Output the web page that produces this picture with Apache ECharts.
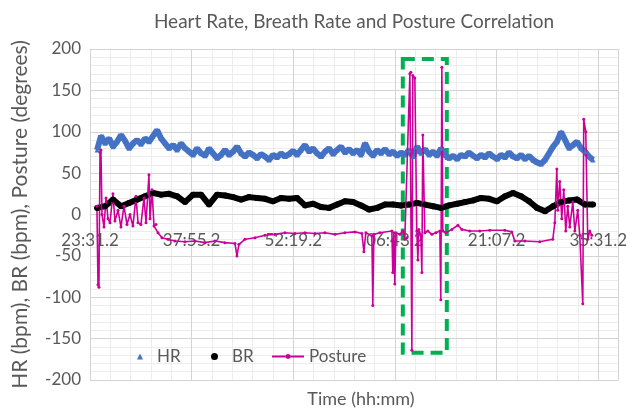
<!DOCTYPE html>
<html>
<head>
<meta charset="utf-8">
<script src="https://cdn.jsdelivr.net/npm/echarts@6/dist/echarts.min.js"></script>
<style>
  html, body { margin: 0; padding: 0; background: #fff; }
  #chart { width: 630px; height: 409px; }
</style>
</head>
<body>
<div id="chart"></div>
<script>
// time axis: seconds after the first sample label (23:31.2)
const timeLabels = ['23:31.2', '37:55.2', '52:19.2', '06:43.2', '21:07.2', '35:31.2'];
const labelStep = 864;          // 14:24 between labels
const axisEnd = 4492.8;

// HR (bpm), one reading every 34 s from t = 60 s
const hrStart = 60, hrStep = 34;
const hrValues = [
  78, 95, 86, 92, 82, 88, 96, 89, 80, 86, 90, 85, 92, 88, 95, 102, 92, 86, 80, 84,
  78, 86, 80, 76, 72, 80, 74, 71, 80, 74, 68, 72, 78, 72, 76, 82, 74, 70, 75, 72,
  68, 73, 70, 66, 72, 69, 74, 70, 73, 77, 72, 78, 84, 76, 80, 74, 70, 76, 80, 73,
  78, 82, 75, 79, 74, 78, 72, 86, 76, 71, 78, 74, 79, 73, 76, 71, 75, 72, 78, 70,
  82, 74, 79, 72, 76, 71, 80, 72, 68, 71, 67, 72, 70, 75, 71, 68, 72, 69, 74, 70,
  67, 72, 69, 75, 70, 68, 72, 67, 71, 66, 63, 61, 66, 74, 82, 88, 100, 90, 80, 84,
  88, 80, 76, 70, 66
];

// BR (bpm), one reading every 68 s from t = 60 s
const brStart = 60, brStep = 68;
const brValues = [
  8, 10, 18, 10, 14, 18, 22, 26, 24, 25, 22, 15, 24, 24, 12, 24, 23, 21, 18, 21,
  20, 19, 16, 20, 19, 20, 11, 13, 9, 8, 12, 16, 15, 11, 6, 8, 12, 12, 11, 12,
  14, 12, 10, 8, 11, 13, 15, 17, 20, 19, 16, 22, 26, 22, 16, 8, 4, 10, 15, 17,
  18, 12, 12
];

// Posture (degrees): [seconds, angle]
const posturePoints = [
  [59, 10], [68, -85], [76, -88], [85, 75], [93, 78], [102, 0], [119, -15], [136, 20],
  [153, -5], [170, -10], [195, 25], [212, -8], [238, 5], [263, -15], [289, 10], [314, -12],
  [340, 0], [365, -14], [391, 22], [408, -10], [433, -12], [459, 20], [476, -10], [501, 48],
  [510, -5], [527, 30], [544, -14], [561, -12], [578, -22], [612, -28], [663, -30], [722, -32],
  [807, -33], [892, -32], [977, -34], [1062, -32], [1147, -34], [1232, -35], [1249, -50], [1266, -36],
  [1317, -30], [1402, -28], [1487, -25], [1572, -24], [1657, -22], [1742, -23], [1827, -22], [1912, -23],
  [1997, -22], [2082, -24], [2166, -22], [2251, -21], [2311, -23], [2328, -45], [2345, -22], [2396, -26],
  [2404, -110], [2413, -24], [2464, -22], [2566, -20], [2574, -70], [2583, -22], [2591, -84], [2600, -22],
  [2634, -24], [2659, -20], [2676, -30], [2693, -28], [2719, 170], [2727, 172], [2736, -164], [2744, 168],
  [2761, 165], [2778, -20], [2787, -55], [2795, -18], [2812, -25], [2821, -70], [2829, 96], [2846, -22],
  [2872, -20], [2906, -24], [2940, -22], [2974, -20], [2982, -103], [2991, 178], [2999, -20], [3025, -22],
  [3076, -18], [3127, -13], [3161, -18], [3228, -20], [3313, -20], [3398, -19], [3526, -19], [3585, -21],
  [3611, -32], [3696, -32], [3823, -33], [3934, -30], [3951, -10], [3968, 55], [3976, 5], [3993, 40],
  [4010, -5], [4027, 30], [4044, -20], [4061, 10], [4078, -15], [4104, 15], [4121, -20], [4146, 5],
  [4163, -25], [4189, -108], [4197, 115], [4214, 100], [4231, -30], [4248, -20], [4265, -25]
];

// highlighted region (dashed green box)
const boxFrom = [2659, 188];
const boxTo = [3033, -167];

const hrData = hrValues.map((v, i) => [hrStart + i * hrStep, v]);
const brData = brValues.map((v, i) => [brStart + i * brStep, v]);

const textColor = '#595959';
const font = 'Lato';

const chart = echarts.init(document.getElementById('chart'));

const option = {
  backgroundColor: '#fff',
  textStyle: { fontFamily: font },
  title: [
    {
      text: 'Heart Rate, Breath Rate and Posture Correlation',
      left: 349, top: 7, textAlign: 'center',
      textStyle: { color: textColor, fontSize: 19, fontWeight: 'normal', fontFamily: font }
    },
    {
      text: 'Time (hh:mm)',
      left: 356, top: 385, textAlign: 'center',
      textStyle: { color: textColor, fontSize: 18, fontWeight: 'normal', fontFamily: font }
    }
  ],
  grid: { left: 90, right: 11, top: 49, bottom: 29 },
  legend: [
    {
      data: [{ name: 'HR', icon: 'triangle' }],
      left: 132, top: 343, itemWidth: 6, itemHeight: 6,
      textStyle: { color: textColor, fontSize: 17, fontFamily: font, padding: [0, 0, 0, 9] }
    },
    {
      data: [{ name: 'BR', icon: 'circle' }],
      left: 206, top: 343, itemWidth: 7, itemHeight: 7,
      textStyle: { color: textColor, fontSize: 17, fontFamily: font, padding: [0, 0, 0, 9] }
    },
    {
      data: ['Posture'],
      left: 266, top: 343, itemWidth: 32, itemHeight: 6,
      textStyle: { color: textColor, fontSize: 17, fontFamily: font }
    }
  ],
  xAxis: [
    {
      // labels sit just below the zero line, like the spreadsheet chart
      type: 'value', min: 0, max: axisEnd, interval: labelStep,
      offset: -165.5,
      axisLine: { show: false, onZero: false },
      axisTick: { show: false },
      splitLine: { show: true, lineStyle: { color: '#d4d4d4', width: 1 } },
      axisLabel: {
        color: textColor, fontSize: 17, fontFamily: font, margin: 18,
        showMaxLabel: false,
        formatter: v => timeLabels[Math.round(v / labelStep)] || ''
      }
    },
    {
      // minor vertical grid
      type: 'value', min: 0, max: axisEnd, interval: labelStep / 5, z: -1,
      axisLine: { show: false }, axisTick: { show: false }, axisLabel: { show: false },
      splitLine: { show: true, lineStyle: { color: '#ececec', width: 1 } }
    }
  ],
  yAxis: {
    type: 'value', min: -200, max: 200, interval: 50,
    name: 'HR (bpm), BR (bpm), Posture (degrees)',
    nameLocation: 'middle', nameGap: 59, nameRotate: 90,
    nameTextStyle: { color: textColor, fontSize: 21, fontFamily: font },
    axisLine: { show: true, lineStyle: { color: '#d4d4d4' } },
    axisTick: { show: false },
    axisLabel: { color: textColor, fontSize: 17, fontFamily: font, margin: 9 },
    splitLine: { lineStyle: { color: '#d4d4d4' } },
    minorTick: { show: false, splitNumber: 5 },
    minorSplitLine: { show: true, lineStyle: { color: '#ececec' } }
  },
  series: [
    {
      name: 'HR', type: 'line', data: hrData,
      color: '#4472c4',
      symbol: 'triangle', symbolSize: 5, showAllSymbol: true,
      lineStyle: { width: 6, color: '#4472c4' },
      itemStyle: { color: '#4472c4' },
      animation: false
    },
    {
      name: 'BR', type: 'line', data: brData,
      color: '#000',
      symbol: 'circle', symbolSize: 6, showAllSymbol: true,
      lineStyle: { width: 6, color: '#000' },
      itemStyle: { color: '#000' },
      animation: false
    },
    {
      name: 'Posture', type: 'line', data: posturePoints,
      color: '#cc0099',
      symbol: 'circle', symbolSize: 3, showAllSymbol: true,
      lineStyle: { width: 1.6, color: '#cc0099' },
      itemStyle: { color: '#cc0099' },
      animation: false,
      markArea: {
        silent: true,
        itemStyle: {
          color: 'rgba(0,0,0,0)',
          borderColor: '#00b050', borderWidth: 4, borderType: [12, 7]
        },
        data: [[{ coord: boxFrom }, { coord: boxTo }]]
      }
    }
  ]
};

chart.setOption(option);
</script>
</body>
</html>
